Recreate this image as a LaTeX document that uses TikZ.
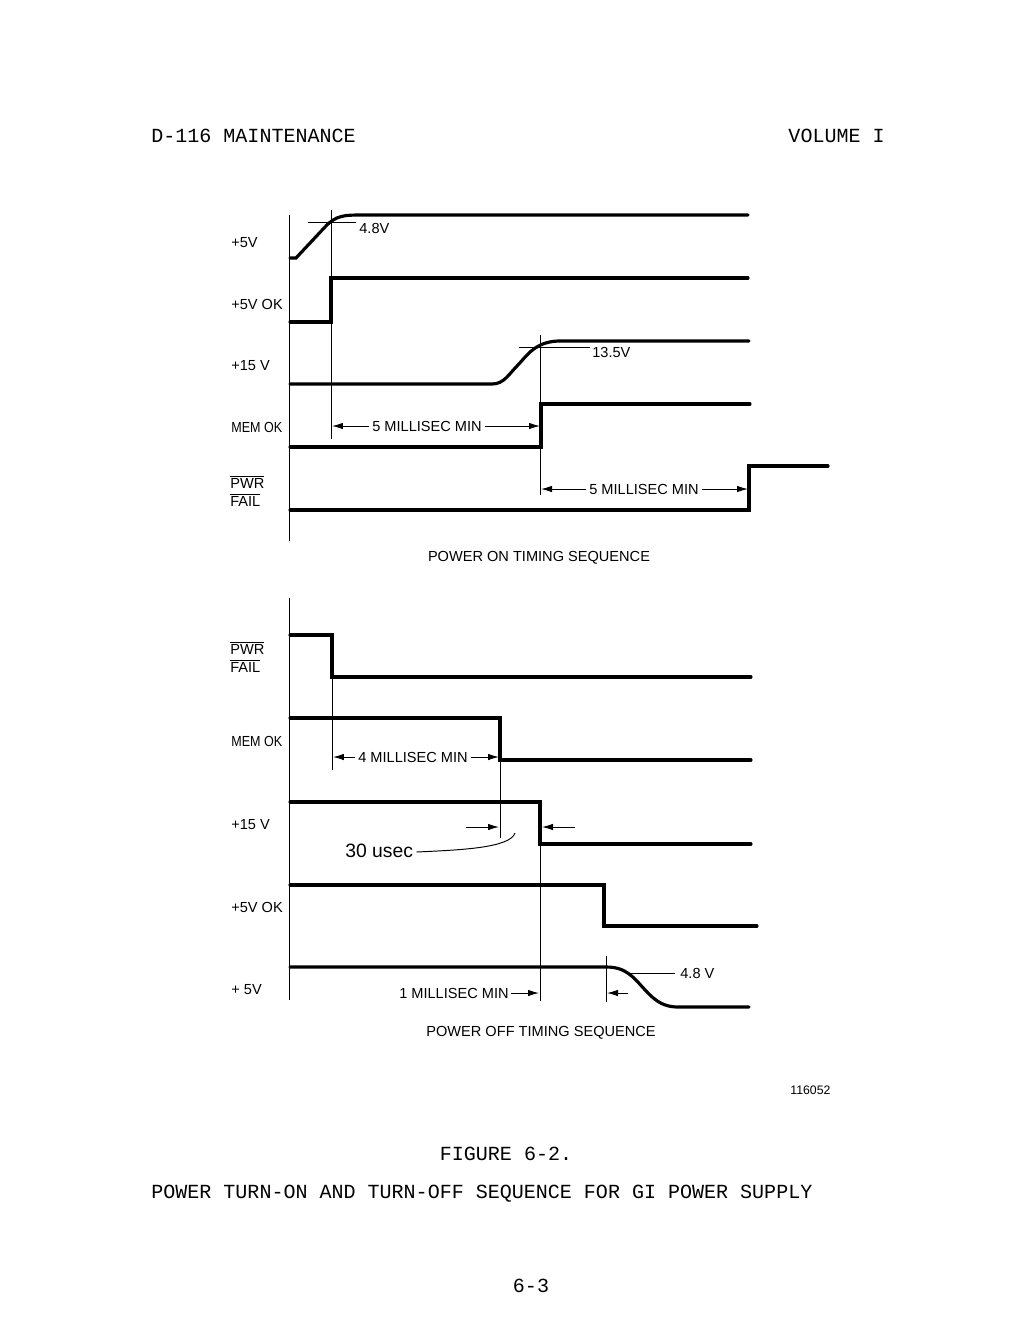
\documentclass[tikz,border=0pt]{standalone}
\usepackage{fontspec}
\setmainfont{Liberation Sans}
\newfontfamily\mono{Liberation Mono}
\newfontfamily\diag{Liberation Sans}
\usetikzlibrary{arrows.meta}
\tikzset{
  sig/.style={line width=1.8pt, line join=miter, line cap=round},
  thin/.style={line width=0.55pt},
  dim/.style={line width=0.55pt, -{Latex[length=2.2mm,width=1.3mm]}},
  lbl/.style={font=\diag\fontsize{8.3}{10}\selectfont, anchor=west, inner sep=0pt},
  ctext/.style={font=\diag\fontsize{8.3}{10}\selectfont, inner sep=0pt},
  hdr/.style={font=\mono\fontsize{11.4}{13}\selectfont, inner sep=0pt},
}
\newcommand{\ovl}[1]{$\overline{\mbox{#1}}$}
\begin{document}
\begin{tikzpicture}[x=0.02cm,y=-0.02cm]
\useasboundingbox (0,0) rectangle (1024,1320);
% header
\node[hdr, anchor=west] (h1) at (151,136) {D-116 MAINTENANCE};
\node[hdr, anchor=east] (h2) at (885,136) {VOLUME I};

% ================= POWER ON =================
\draw[thin] (289,215) -- (289,541);
% labels
\node[lbl] (l1) at (231,243) {+5V};
\node[lbl] (l2) at (231,304) {+5V OK};
\node[lbl] (l3) at (231,366) {+15 V};
\node[lbl] (l4) at (231,427) {\scalebox{0.86}[1]{MEM OK}};
\node[lbl] (l5) at (230,482) {\ovl{PWR}};
\node[lbl] (l6) at (230,500) {\ovl{FAIL}};
% +5V
\draw[sig] (290,258) -- (296,258) -- (325,227) .. controls (336,215) and (345,215) .. (362,215) -- (748,215);
% 4.8V marker
\coordinate (m1a) at (308,222);
\coordinate (m1b) at (356,222);
\draw[thin] (m1a) -- (m1b);
\node[lbl] (t48) at (359,228) {4.8V};
% +5V OK
\draw[sig] (290,322) -- (331,322) -- (331,278) -- (748,278);
% +15V
\draw[sig] (290,384) -- (492,384) .. controls (504,384) and (509,374) .. (517,366) .. controls (526,357) and (534,342) .. (558,341) -- (749,341);
\coordinate (m2a) at (519,347);
\coordinate (m2b) at (590,347);
\draw[thin] (m2a) -- (m2b);
\node[lbl] (t135) at (592,352) {13.5V};
% MEM OK
\draw[sig] (290,447) -- (541,447) -- (541,404) -- (750,404);
% PWR FAIL
\draw[sig] (290,510) -- (749,510) -- (749,466) -- (828,466);
% timing verticals
\coordinate (v1t) at (331,210);
\coordinate (v1b) at (331,439);
\draw[thin] (v1t) -- (v1b);
\coordinate (v2t) at (540,335);
\coordinate (v2b) at (540,495);
\draw[thin] (v2t) -- (v2b);
% dimension 1
\node[ctext] (d1) at (427,426) {5 MILLISEC MIN};
\draw[dim] (d1.west) ++(-3,0) -- (332,426);
\draw[dim] (d1.east) ++(3,0) -- (540,426);
% dimension 2
\node[ctext] (d2) at (644,489) {5 MILLISEC MIN};
\draw[dim] (d2.west) ++(-3,0) -- (541,489);
\draw[dim] (d2.east) ++(3,0) -- (748,489);
\node[ctext] (c1) at (539,558) {POWER ON TIMING SEQUENCE};

% ================= POWER OFF =================
\draw[thin] (289,598) -- (289,1000);
\node[lbl] (p1) at (230,648) {\ovl{PWR}};
\node[lbl] (p2) at (230,666) {\ovl{FAIL}};
\node[lbl] (p3) at (231,741) {\scalebox{0.86}[1]{MEM OK}};
\node[lbl] (p4) at (231,825) {+15 V};
\node[lbl] (p5) at (231,907) {+5V OK};
\node[lbl] (p6) at (231,990) {+ 5V};
% PWR FAIL
\draw[sig] (290,635) -- (332,635) -- (332,677) -- (751,677);
% MEM OK
\draw[sig] (290,718) -- (500,718) -- (500,760) -- (751,760);
% +15V
\draw[sig] (290,802) -- (540,802) -- (540,844) -- (751,844);
% +5V OK
\draw[sig] (290,885) -- (604,885) -- (604,926) -- (757,926);
% +5V
\draw[sig] (290,967) -- (606,967) .. controls (618,967) and (626,970) .. (636,980) .. controls (650,995) and (658,1007) .. (678,1007) -- (749,1007);
\coordinate (m3a) at (630,973);
\coordinate (m3b) at (675,973);
\draw[thin] (m3a) -- (m3b);
\node[lbl] (t48b) at (680,973) {4.8 V};
% verticals
\coordinate (w1t) at (332,677);
\coordinate (w1b) at (332,770);
\draw[thin] (w1t) -- (w1b);
\coordinate (w2t) at (500,760);
\coordinate (w2b) at (500,838);
\draw[thin] (w2t) -- (w2b);
\coordinate (w3t) at (540,820);
\coordinate (w3b) at (540,1001);
\draw[thin] (w3t) -- (w3b);
\coordinate (w4t) at (606,956);
\coordinate (w4b) at (606,1002);
\draw[thin] (w4t) -- (w4b);
% dimension 4 ms
\node[ctext] (d3) at (413,757) {4 MILLISEC MIN};
\draw[dim] (d3.west) ++(-3,0) -- (333,757);
\draw[dim] (d3.east) ++(3,0) -- (499,757);
% 30 usec
\coordinate (a1) at (466,827);
\coordinate (a2) at (575,827);
\draw[dim] (a1) -- (499,827);
\draw[dim] (a2) -- (542,827);
\node[font=\diag\fontsize{11}{13}\selectfont, inner sep=0pt, anchor=west] (u1) at (345,851) {30 usec};
\draw[thin] (u1.east) ++(3,1) .. controls (460,850) and (510,848) .. (515,833);
% 1 ms
\node[ctext, anchor=east] (d4) at (509,993) {1 MILLISEC MIN};
\draw[dim] (d4.east) ++(2,0) -- (539,993);
\coordinate (a3) at (628,993);
\draw[dim] (a3) -- (607,993);
\node[ctext] (c2) at (541,1033) {POWER OFF TIMING SEQUENCE};
\node[font=\diag\fontsize{7}{8}\selectfont, inner sep=0pt, anchor=west] (id) at (790,1090) {116052};

% footer
\node[hdr] (f1) at (506,1154) {FIGURE 6-2.};
\node[hdr, anchor=west] (f2) at (151,1194) {POWER TURN-ON AND TURN-OFF SEQUENCE FOR GI POWER SUPPLY};
\node[hdr] (f3) at (531,1286) {6-3};
\end{tikzpicture}
\end{document}
